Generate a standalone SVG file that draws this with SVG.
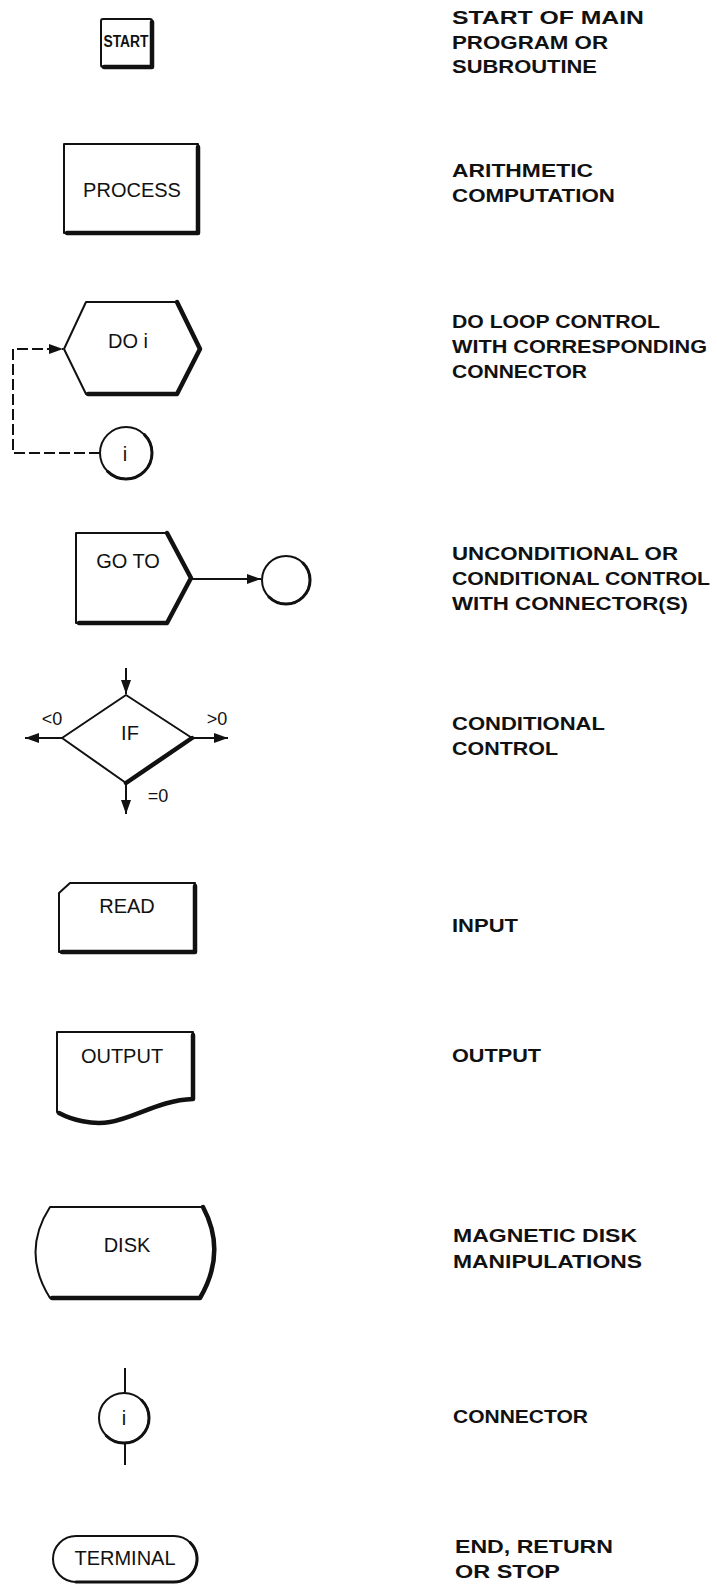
<svg xmlns="http://www.w3.org/2000/svg" width="717" height="1585" viewBox="0 0 717 1585">
<defs>
<style>
.sh{fill:#fff;stroke:#111;stroke-width:2;stroke-linejoin:round}
.hv{fill:none;stroke:#111;stroke-width:4.5;stroke-linecap:round;stroke-linejoin:round}
.ln{fill:none;stroke:#111;stroke-width:2}
.dash{stroke-dasharray:11 4}
.lbl{font-family:"Liberation Sans",Arial,sans-serif;font-size:20px;fill:#111;text-anchor:middle}
.sm{font-size:18px}
.desc{font-family:"Liberation Sans",Arial,sans-serif;font-weight:bold;font-size:19px;fill:#111}
</style>
<marker id="ah" viewBox="0 0 14 10" refX="14" refY="5" markerWidth="14" markerHeight="10" markerUnits="userSpaceOnUse" orient="auto">
<path d="M0,0 L14,5 L0,10 z" fill="#111"/>
</marker>
</defs>
<rect width="717" height="1585" fill="#fff"/>

<g id="connectors">
<path class="ln dash" d="M100,453 H13 V349 H63" marker-end="url(#ah)"/>
<path class="ln" d="M191,579 H261" marker-end="url(#ah)"/>
<path class="ln" d="M126,668 V694" marker-end="url(#ah)"/>
<path class="ln" d="M62,738 H25" marker-end="url(#ah)"/>
<path class="ln" d="M192,738 H228" marker-end="url(#ah)"/>
<path class="ln" d="M126,783 V814" marker-end="url(#ah)"/>
<path class="ln" d="M125,1368 V1393"/>
<path class="ln" d="M125,1443 V1465"/>
</g>

<g id="start">
<rect class="sh" x="101" y="19" width="51" height="48" rx="2"/>
<path class="hv" d="M152,22 V67 H104"/>
<text x="126" y="47" class="lbl" style="font-weight:bold;font-size:16px" textLength="45" lengthAdjust="spacingAndGlyphs">START</text>
</g>

<g id="process">
<rect class="sh" x="64" y="144" width="134" height="89"/>
<path class="hv" d="M198,147 V233 H67"/>
<text x="132" y="197" class="lbl">PROCESS</text>
</g>

<g id="do">
<polygon class="sh" points="86,302 177,302 200,349 177,394 86,394 64,349"/>
<path class="hv" d="M177,302 L200,349 L177,394 H88"/>
<text x="128" y="348" class="lbl">DO i</text>
</g>

<g id="do-connector">
<circle class="sh" cx="126" cy="453" r="26"/>
<path class="hv" style="stroke-width:3" d="M144.4,434.6 A26,26 0 0 1 107.6,471.4"/>
<text x="125" y="461" class="lbl">i</text>
</g>

<g id="goto">
<path class="sh" d="M76,533 H167 L191,578 L167,623 H76 Z"/>
<path class="hv" d="M167,533 L191,578 L167,623 H79"/>
<text x="128" y="568" class="lbl">GO TO</text>
</g>

<g id="goto-connector">
<circle class="sh" cx="286" cy="580" r="24"/>
<path class="hv" style="stroke-width:3" d="M303,563 A24,24 0 0 1 269,597"/>
</g>

<g id="if">
<polygon class="sh" points="126,695 192,738 126,783 62,738"/>
<path class="hv" d="M192,738 L126,783"/>
<text x="130" y="740" class="lbl">IF</text>
<text x="52" y="725" class="lbl sm">&lt;0</text>
<text x="217" y="725" class="lbl sm">&gt;0</text>
<text x="158" y="802" class="lbl sm">=0</text>
</g>

<g id="read">
<path class="sh" d="M70,883 H195 V952 H59 V893 Z"/>
<path class="hv" d="M195,886 V952 H62"/>
<text x="127" y="913" class="lbl">READ</text>
</g>

<g id="output">
<path class="sh" d="M57,1032 H193 V1099 C160,1100 135,1118 110,1122 C92,1125 72,1120 57,1112 Z"/>
<path class="hv" d="M193,1035 V1099 C160,1100 135,1118 110,1122 C92,1125 72,1120 59,1113"/>
<text x="122" y="1063" class="lbl">OUTPUT</text>
</g>

<g id="disk">
<path class="sh" d="M50,1207 H203 Q227,1252 200,1298 H50 Q21,1252 50,1207 Z"/>
<path class="hv" d="M203,1207 Q227,1252 200,1298 H52"/>
<text x="127" y="1252" class="lbl">DISK</text>
</g>

<g id="connector">
<circle class="sh" cx="124" cy="1418" r="25"/>
<path class="hv" style="stroke-width:3" d="M141.7,1400.3 A25,25 0 0 1 106.3,1435.7"/>
<text x="124" y="1425" class="lbl">i</text>
</g>

<g id="terminal">
<rect class="sh" x="53" y="1536" width="144" height="46" rx="23"/>
<path class="hv" style="stroke-width:3" d="M190.3,1542.7 A23,23 0 0 1 174,1582 H76"/>
<text x="125" y="1565" class="lbl">TERMINAL</text>
</g>

<g id="descriptions">
<text class="desc" x="452" y="24" textLength="192" lengthAdjust="spacingAndGlyphs">START OF MAIN</text>
<text class="desc" x="452" y="48.5" textLength="156" lengthAdjust="spacingAndGlyphs">PROGRAM OR</text>
<text class="desc" x="452" y="73" textLength="145" lengthAdjust="spacingAndGlyphs">SUBROUTINE</text>
<text class="desc" x="452" y="177" textLength="141" lengthAdjust="spacingAndGlyphs">ARITHMETIC</text>
<text class="desc" x="452" y="202" textLength="163" lengthAdjust="spacingAndGlyphs">COMPUTATION</text>
<text class="desc" x="452" y="328" textLength="208" lengthAdjust="spacingAndGlyphs">DO LOOP CONTROL</text>
<text class="desc" x="452" y="353" textLength="255" lengthAdjust="spacingAndGlyphs">WITH CORRESPONDING</text>
<text class="desc" x="452" y="378" textLength="135" lengthAdjust="spacingAndGlyphs">CONNECTOR</text>
<text class="desc" x="452" y="560" textLength="226" lengthAdjust="spacingAndGlyphs">UNCONDITIONAL OR</text>
<text class="desc" x="452" y="585" textLength="258" lengthAdjust="spacingAndGlyphs">CONDITIONAL CONTROL</text>
<text class="desc" x="452" y="610" textLength="236" lengthAdjust="spacingAndGlyphs">WITH CONNECTOR(S)</text>
<text class="desc" x="452" y="730" textLength="153" lengthAdjust="spacingAndGlyphs">CONDITIONAL</text>
<text class="desc" x="452" y="755" textLength="106" lengthAdjust="spacingAndGlyphs">CONTROL</text>
<text class="desc" x="452" y="932" textLength="66" lengthAdjust="spacingAndGlyphs">INPUT</text>
<text class="desc" x="452" y="1062" textLength="89" lengthAdjust="spacingAndGlyphs">OUTPUT</text>
<text class="desc" x="453" y="1242" textLength="184" lengthAdjust="spacingAndGlyphs">MAGNETIC DISK</text>
<text class="desc" x="453" y="1268" textLength="189" lengthAdjust="spacingAndGlyphs">MANIPULATIONS</text>
<text class="desc" x="453" y="1423" textLength="135" lengthAdjust="spacingAndGlyphs">CONNECTOR</text>
<text class="desc" x="455" y="1553" textLength="158" lengthAdjust="spacingAndGlyphs">END, RETURN</text>
<text class="desc" x="455" y="1578" textLength="105" lengthAdjust="spacingAndGlyphs">OR STOP</text>
</g>
</svg>
